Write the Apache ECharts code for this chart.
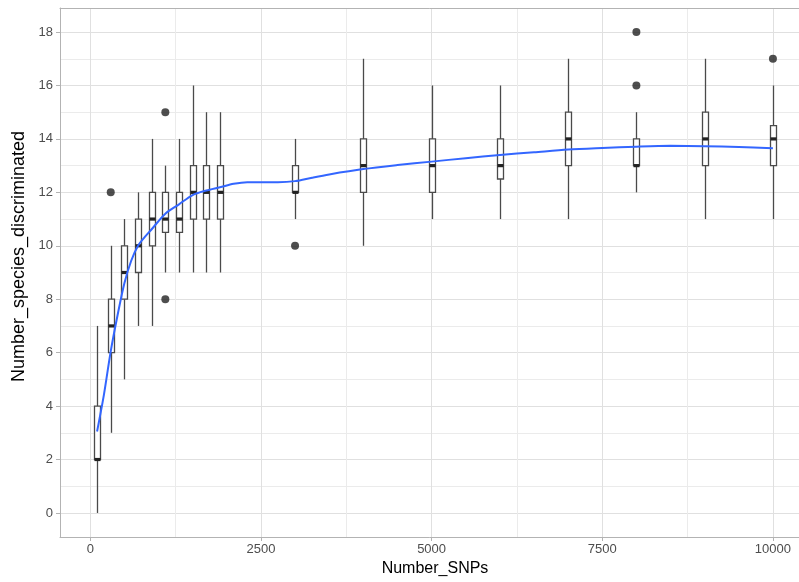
<!DOCTYPE html>
<html>
<head>
<meta charset="utf-8">
<script src="https://cdn.jsdelivr.net/npm/echarts@6/dist/echarts.min.js"></script>
<style>
  html, body { margin: 0; padding: 0; background: #fff; }
  #chart { width: 799px; height: 582px; }
</style>
</head>
<body>
<div id="chart"></div>
<script>
// Number of SNPs used per run
const snps = [100, 300, 500, 700, 900, 1100, 1300, 1500, 1700, 1900, 3000, 4000, 5000, 6000, 7000, 8000, 9000, 10000];
// Box statistics per SNP count (species discriminated)
const whiskerLow  = [0, 3, 5, 7, 7, 9, 9, 9, 9, 9, 11, 10, 11, 11, 11, 12, 11, 11];
const q1          = [2, 6, 8, 9, 10, 10.5, 10.5, 11, 11, 11, 12, 12, 12, 12.5, 13, 13, 13, 13];
const median      = [2, 7, 9, 10, 11, 11, 11, 12, 12, 12, 12, 13, 13, 13, 14, 13, 14, 14];
const q3          = [4, 8, 10, 11, 12, 12, 12, 13, 13, 13, 13, 14, 14, 14, 15, 14, 15, 14.5];
const whiskerHigh = [7, 10, 11, 12, 14, 13, 14, 16, 15, 15, 14, 17, 16, 16, 17, 15, 17, 16];

// Outlying runs
const outlierX = [300, 1100, 1100, 3000, 8000, 8000, 10000];
const outlierY = [12, 15, 8, 10, 18, 16, 17];

// Smoothed trend
const smoothX = [100, 200, 300, 400, 500, 600, 700, 800, 900, 1100, 1300, 1500, 1700, 1900, 2100, 2300, 2500, 2750, 3000, 3250, 3500, 4000, 4500, 5000, 5500, 6000, 6500, 7000, 7500, 8000, 8500, 9000, 9500, 10000];
const smoothY = [3.05, 4.42, 6.05, 7.4, 8.6, 9.44, 10.0, 10.33, 10.62, 11.2, 11.55, 11.9, 12.07, 12.19, 12.32, 12.38, 12.38, 12.38, 12.42, 12.55, 12.67, 12.87, 13.02, 13.15, 13.28, 13.4, 13.5, 13.6, 13.66, 13.71, 13.74, 13.73, 13.7, 13.65];

// Axis breaks
const xMajor = [0, 2500, 5000, 7500, 10000];
const xMinor = [1250, 3750, 6250, 8750];
const yMajor = [0, 2, 4, 6, 8, 10, 12, 14, 16, 18];
const yMinor = [1, 3, 5, 7, 9, 11, 13, 15, 17];

const xRange = [-443, 10543];
const yRange = [-0.9, 18.9];

const FONT = "'Liberation Sans', Arial, sans-serif";
const BORDER = '#B3B3B3';

const boxData = snps.map((x, i) => [x, whiskerLow[i], q1[i], median[i], q3[i], whiskerHigh[i]]);
const outlierData = outlierX.map((x, i) => [x, outlierY[i]]);
const smoothData = smoothX.map((x, i) => [x, smoothY[i]]);

const chart = echarts.init(document.getElementById('chart'), null, { renderer: 'canvas' });

const plain = v => String(v);
const frameLine = { show: true, onZero: false, lineStyle: { color: BORDER, width: 1 } };

chart.setOption({
  animation: false,
  backgroundColor: '#ffffff',
  grid: {
    left: 60, right: -11, top: 8, bottom: 45,
    outerBoundsMode: 'none',
    show: false
  },
  xAxis: [
    {
      type: 'value', min: xRange[0], max: xRange[1], position: 'bottom',
      name: 'Number_SNPs', nameLocation: 'middle', nameGap: 20,
      nameTextStyle: { fontFamily: FONT, fontSize: 16, color: '#000' },
      axisLine: frameLine,
      axisTick: { show: true, length: 4, customValues: xMajor, lineStyle: { color: BORDER } },
      axisLabel: { customValues: xMajor, formatter: plain, margin: 6, fontFamily: FONT, fontSize: 13, color: '#4D4D4D' },
      splitLine: { show: true, lineStyle: { color: '#E0E0E0', width: 1 } }
    },
    {
      // minor vertical grid, plus the top edge of the panel frame
      type: 'value', min: xRange[0], max: xRange[1], position: 'top',
      axisLine: frameLine,
      axisLabel: { show: false },
      axisTick: { show: false, customValues: xMinor },
      splitLine: { show: true, lineStyle: { color: '#EBEBEB', width: 1 } }
    }
  ],
  yAxis: [
    {
      type: 'value', min: yRange[0], max: yRange[1], position: 'left',
      name: 'Number_species_discriminated', nameLocation: 'middle', nameGap: 17,
      nameTextStyle: { fontFamily: FONT, fontSize: 18, color: '#000', padding: [0, 0, 0, 32] },
      axisLine: frameLine,
      axisTick: { show: true, length: 4, customValues: yMajor, lineStyle: { color: BORDER } },
      axisLabel: { customValues: yMajor, formatter: plain, margin: 7, fontFamily: FONT, fontSize: 13, color: '#4D4D4D' },
      splitLine: { show: true, lineStyle: { color: '#E0E0E0', width: 1 } }
    },
    {
      // minor horizontal grid, plus the right edge of the panel frame
      type: 'value', min: yRange[0], max: yRange[1], position: 'right',
      axisLine: frameLine,
      axisLabel: { show: false },
      axisTick: { show: false, customValues: yMinor },
      splitLine: { show: true, lineStyle: { color: '#EBEBEB', width: 1 } }
    }
  ],
  series: [
    {
      // Box-and-whisker marks: whisker line, white box, thick median bar
      type: 'custom',
      xAxisIndex: 0, yAxisIndex: 0,
      data: boxData,
      encode: { x: 0, y: [1, 2, 3, 4, 5] },
      renderItem: function (params, api) {
        const x = api.value(0);
        const lo = api.coord([x, api.value(1)]);
        const b1 = api.coord([x, api.value(2)]);
        const md = api.coord([x, api.value(3)]);
        const b3 = api.coord([x, api.value(4)]);
        const hi = api.coord([x, api.value(5)]);
        const w = 6;
        const cx = Math.round(lo[0]) + 0.5;
        return {
          type: 'group',
          children: [
            { type: 'line', shape: { x1: cx, y1: lo[1], x2: cx, y2: hi[1] },
              style: { stroke: '#4a4a4a', lineWidth: 1.3 } },
            { type: 'rect', shape: { x: cx - w / 2, y: b3[1], width: w, height: b1[1] - b3[1] },
              style: { fill: '#ffffff', stroke: '#4a4a4a', lineWidth: 1.3 } },
            { type: 'rect', shape: { x: cx - w / 2, y: md[1] - 1.6, width: w, height: 3.2 },
              style: { fill: '#222222' } }
          ]
        };
      },
      z: 2
    },
    {
      type: 'scatter',
      data: outlierData,
      symbol: 'circle', symbolSize: 8,
      itemStyle: { color: '#222222' },
      z: 3
    },
    {
      type: 'line',
      data: smoothData,
      smooth: 0.3,
      showSymbol: false,
      lineStyle: { color: '#3366FF', width: 2 },
      z: 4
    }
  ]
});
</script>
</body>
</html>
